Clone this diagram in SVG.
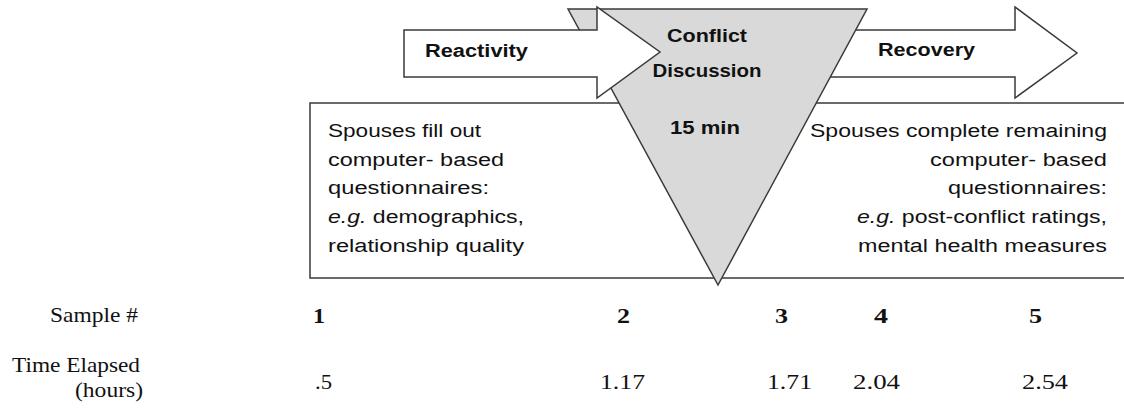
<svg xmlns="http://www.w3.org/2000/svg" width="1124" height="414" viewBox="0 0 1124 414">
<style>
.shape{stroke:#3a3a3a;stroke-width:1.5;stroke-linejoin:miter}
.cal{font-family:"Liberation Sans",Arial,sans-serif;font-size:18px;fill:#111}
.b{font-weight:bold}
.tnr{font-family:"Liberation Serif","Times New Roman",serif;font-size:21px;fill:#111}
</style>
<rect width="1124" height="414" fill="#ffffff"/>
<g id="box-before-after">
<rect class="shape" x="310" y="103" width="830" height="175" fill="#ffffff"/>
</g>
<g id="recovery-arrow">
<polygon class="shape" points="760,30 1015,30 1015,7 1077,53 1015,98 1015,77 760,77" fill="#ffffff"/>
<text class="cal b" x="878" y="56" textLength="97" lengthAdjust="spacingAndGlyphs">Recovery</text>
</g>
<g id="conflict-triangle">
<polygon class="shape" points="568,9 867,9 718,285" fill="#d9d9d9"/>
<text class="cal b" x="707" y="42" text-anchor="middle" textLength="80" lengthAdjust="spacingAndGlyphs">Conflict</text>
<text class="cal b" x="707" y="77" text-anchor="middle" textLength="109" lengthAdjust="spacingAndGlyphs">Discussion</text>
<text class="cal b" x="705" y="134" text-anchor="middle" textLength="70" lengthAdjust="spacingAndGlyphs">15 min</text>
</g>
<g id="reactivity-arrow">
<polygon class="shape" points="404,30 597,30 597,7 660,52 597,98 597,77 404,77" fill="#ffffff"/>
<text class="cal b" x="425" y="57" textLength="103" lengthAdjust="spacingAndGlyphs">Reactivity</text>
</g>
<g id="text-before">
<text class="cal" x="328" y="137" textLength="153" lengthAdjust="spacingAndGlyphs">Spouses fill out</text>
<text class="cal" x="328" y="166" textLength="176" lengthAdjust="spacingAndGlyphs">computer- based</text>
<text class="cal" x="328" y="194" textLength="161" lengthAdjust="spacingAndGlyphs">questionnaires:</text>
<text class="cal" x="328" y="223" textLength="196" lengthAdjust="spacingAndGlyphs"><tspan font-style="italic">e.g.</tspan> demographics,</text>
<text class="cal" x="328" y="252" textLength="196" lengthAdjust="spacingAndGlyphs">relationship quality</text>
</g>
<g id="text-after">
<text class="cal" x="810" y="137" textLength="297" lengthAdjust="spacingAndGlyphs">Spouses complete remaining</text>
<text class="cal" x="930" y="166" textLength="177" lengthAdjust="spacingAndGlyphs">computer- based</text>
<text class="cal" x="948" y="194" textLength="159" lengthAdjust="spacingAndGlyphs">questionnaires:</text>
<text class="cal" x="857" y="223" textLength="250" lengthAdjust="spacingAndGlyphs"><tspan font-style="italic">e.g.</tspan> post-conflict ratings,</text>
<text class="cal" x="858" y="252" textLength="249" lengthAdjust="spacingAndGlyphs">mental health measures</text>
</g>
<g id="sample-row">
<text class="tnr" x="50" y="322" textLength="88" lengthAdjust="spacingAndGlyphs">Sample #</text>
<text class="tnr b" x="313" y="323" textLength="12" lengthAdjust="spacingAndGlyphs">1</text>
<text class="tnr b" x="617" y="323" textLength="13" lengthAdjust="spacingAndGlyphs">2</text>
<text class="tnr b" x="775" y="323" textLength="13" lengthAdjust="spacingAndGlyphs">3</text>
<text class="tnr b" x="874" y="323" textLength="14" lengthAdjust="spacingAndGlyphs">4</text>
<text class="tnr b" x="1029" y="323" textLength="13" lengthAdjust="spacingAndGlyphs">5</text>
</g>
<g id="time-row">
<text class="tnr" x="12" y="372" textLength="128" lengthAdjust="spacingAndGlyphs">Time Elapsed</text>
<text class="tnr" x="75" y="397" textLength="68" lengthAdjust="spacingAndGlyphs">(hours)</text>
<text class="tnr" x="315" y="389" textLength="17" lengthAdjust="spacingAndGlyphs">.5</text>
<text class="tnr" x="600" y="389" textLength="45" lengthAdjust="spacingAndGlyphs">1.17</text>
<text class="tnr" x="767" y="389" textLength="45" lengthAdjust="spacingAndGlyphs">1.71</text>
<text class="tnr" x="853" y="389" textLength="47" lengthAdjust="spacingAndGlyphs">2.04</text>
<text class="tnr" x="1022" y="389" textLength="46" lengthAdjust="spacingAndGlyphs">2.54</text>
</g>
</svg>
